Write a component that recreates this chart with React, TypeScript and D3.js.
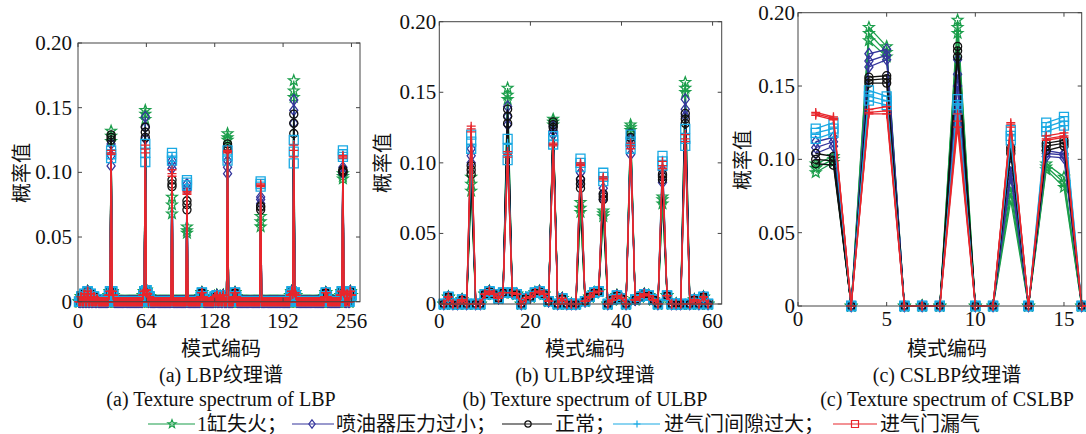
import React from "react";
import * as d3 from "d3";

// ---------------- DATA ----------------
const CLASS_NAMES = ["1缸失火", "喷油器压力过小", "正常", "进气门间隙过大", "进气门漏气"];
const CLASS_COLORS = ["#1b9e4b", "#34359c", "#111111", "#1aa9e3", "#e8262c"];
const PLOT_MARKERS = ["star", "diamond", "circle", "square", "plus"];
const LEGEND_MARKERS = ["star", "diamond", "circle", "plus", "square"];

// LBP (256 bins)
const LBP_TICKS = [0, 64, 128, 192, 256];
const LBP_PEAK_BINS = [31, 63, 88, 102, 140, 171, 202, 248];
const LBP_BUMPS: [number, number][] = [
  [3, 0.004], [6, 0.006], [9, 0.008], [12, 0.006], [15, 0.004], [18, 0.002],
  [29, 0.005], [30, 0.008], [32, 0.008], [33, 0.005],
  [61, 0.005], [62, 0.008], [64, 0.009], [65, 0.006], [67, 0.004],
  [115, 0.004], [116, 0.007], [117, 0.004],
  [128, 0.004], [130, 0.005], [133, 0.004], [136, 0.005],
  [146, 0.004], [147, 0.007], [148, 0.004],
  [199, 0.005], [200, 0.008], [201, 0.006], [203, 0.007], [204, 0.005],
  [231, 0.004], [232, 0.007], [233, 0.004],
  [246, 0.005], [247, 0.008], [249, 0.007], [252, 0.006], [255, 0.008], [256, 0.005],
];
const LBP_GREEN = [
  [0.132, 0.148, 0.081, 0.058, 0.130, 0.066, 0.171, 0.099],
  [0.128, 0.145, 0.075, 0.055, 0.127, 0.062, 0.163, 0.097],
  [0.124, 0.141, 0.068, 0.053, 0.125, 0.058, 0.158, 0.095],
];
const LBP_NAVY = [
  [0.122, 0.143, 0.109, 0.091, 0.109, 0.081, 0.156, 0.104],
  [0.113, 0.135, 0.106, 0.088, 0.104, 0.079, 0.148, 0.101],
  [0.105, 0.126, 0.103, 0.086, 0.099, 0.076, 0.138, 0.099],
];
const LBP_BLACK = [
  [0.129, 0.135, 0.094, 0.078, 0.122, 0.074, 0.145, 0.102],
  [0.127, 0.131, 0.091, 0.075, 0.120, 0.073, 0.138, 0.101],
  [0.125, 0.127, 0.089, 0.071, 0.118, 0.071, 0.130, 0.100],
];
const LBP_CYAN = [
  [0.117, 0.122, 0.115, 0.094, 0.117, 0.093, 0.125, 0.117],
  [0.114, 0.115, 0.112, 0.092, 0.113, 0.091, 0.116, 0.114],
  [0.111, 0.108, 0.109, 0.090, 0.109, 0.089, 0.107, 0.112],
];
const LBP_RED = [
  [0.117, 0.121, 0.102, 0.085, 0.117, 0.091, 0.121, 0.113],
  [0.115, 0.118, 0.099, 0.084, 0.116, 0.090, 0.117, 0.112],
  [0.114, 0.115, 0.097, 0.083, 0.115, 0.089, 0.112, 0.111],
];

// ULBP (59 bins)
const ULBP_TICKS = [0, 20, 40, 60];
const ULBP_PEAK_BINS = [7, 15, 25, 31, 36, 42, 49, 54];
const ULBP_BASE = [
  0, 0.005, 0, 0, 0.003, 0, 0, 0, 0, 0.007,
  0.009, 0.007, 0.004, 0.008, 0, 0.008, 0.007, 0, 0.004, 0.005,
  0.008, 0.009, 0.007, 0.002, 0, 0, 0.004, 0, 0, 0,
  0, 0.002, 0.005, 0.008, 0.009, 0, 0, 0.003, 0.006, 0.004,
  0, 0, 0.003, 0.005, 0.007, 0.006, 0.003, 0, 0, 0.006,
  0, 0, 0, 0, 0, 0.003, 0, 0.005, 0,
];
const ULBP_GREEN = [
  [0.090, 0.153, 0.131, 0.072, 0.066, 0.127, 0.076, 0.157],
  [0.085, 0.148, 0.129, 0.068, 0.064, 0.125, 0.074, 0.153],
  [0.080, 0.145, 0.127, 0.065, 0.062, 0.123, 0.071, 0.150],
];
const ULBP_NAVY = [
  [0.110, 0.140, 0.126, 0.093, 0.082, 0.117, 0.095, 0.145],
  [0.105, 0.133, 0.123, 0.089, 0.078, 0.112, 0.091, 0.138],
  [0.100, 0.127, 0.120, 0.085, 0.074, 0.106, 0.086, 0.133],
];
const ULBP_BLACK = [
  [0.098, 0.138, 0.129, 0.088, 0.078, 0.121, 0.092, 0.135],
  [0.095, 0.133, 0.127, 0.085, 0.076, 0.118, 0.090, 0.131],
  [0.092, 0.128, 0.125, 0.082, 0.074, 0.115, 0.088, 0.128],
];
const ULBP_CYAN = [
  [0.120, 0.117, 0.119, 0.103, 0.093, 0.120, 0.105, 0.124],
  [0.115, 0.110, 0.116, 0.100, 0.090, 0.115, 0.101, 0.117],
  [0.110, 0.102, 0.113, 0.097, 0.087, 0.110, 0.098, 0.112],
];
const ULBP_RED = [
  [0.126, 0.108, 0.114, 0.100, 0.090, 0.114, 0.101, 0.120],
  [0.124, 0.106, 0.113, 0.099, 0.089, 0.112, 0.098, 0.117],
  [0.122, 0.104, 0.112, 0.098, 0.088, 0.110, 0.096, 0.115],
];

// CSLBP (16 bins)
const CSLBP_TICKS = [0, 5, 10, 15];
const CSLBP_GREEN = [
  [0.097, 0.102, 0, 0.190, 0.177, 0, 0, 0, 0.195, 0, 0, 0.081, 0, 0.097, 0.088, 0],
  [0.094, 0.100, 0, 0.186, 0.173, 0, 0, 0, 0.190, 0, 0, 0.077, 0, 0.095, 0.084, 0],
  [0.091, 0.098, 0, 0.181, 0.170, 0, 0, 0, 0.186, 0, 0, 0.072, 0, 0.093, 0.081, 0],
];
const CSLBP_NAVY = [
  [0.112, 0.115, 0, 0.172, 0.175, 0, 0, 0, 0.168, 0, 0, 0.095, 0, 0.106, 0.104, 0],
  [0.108, 0.112, 0, 0.167, 0.171, 0, 0, 0, 0.158, 0, 0, 0.091, 0, 0.104, 0.103, 0],
  [0.104, 0.109, 0, 0.163, 0.168, 0, 0, 0, 0.150, 0, 0, 0.088, 0, 0.102, 0.101, 0],
];
const CSLBP_BLACK = [
  [0.104, 0.102, 0, 0.156, 0.157, 0, 0, 0, 0.177, 0, 0, 0.108, 0, 0.111, 0.113, 0],
  [0.100, 0.099, 0, 0.154, 0.155, 0, 0, 0, 0.174, 0, 0, 0.106, 0, 0.109, 0.111, 0],
  [0.097, 0.096, 0, 0.152, 0.152, 0, 0, 0, 0.170, 0, 0, 0.104, 0, 0.106, 0.109, 0],
];
const CSLBP_CYAN = [
  [0.121, 0.125, 0, 0.147, 0.143, 0, 0, 0, 0.141, 0, 0, 0.120, 0, 0.125, 0.129, 0],
  [0.118, 0.121, 0, 0.143, 0.140, 0, 0, 0, 0.137, 0, 0, 0.116, 0, 0.122, 0.126, 0],
  [0.114, 0.118, 0, 0.140, 0.137, 0, 0, 0, 0.134, 0, 0, 0.113, 0, 0.119, 0.123, 0],
];
const CSLBP_RED = [
  [0.132, 0.129, 0, 0.134, 0.136, 0, 0, 0, 0.131, 0, 0, 0.125, 0, 0.116, 0.118, 0],
  [0.131, 0.128, 0, 0.132, 0.133, 0, 0, 0, 0.126, 0, 0, 0.124, 0, 0.114, 0.116, 0],
  [0.130, 0.127, 0, 0.131, 0.131, 0, 0, 0, 0.122, 0, 0, 0.122, 0, 0.113, 0.115, 0],
];

const Y_TICKS = [0, 0.05, 0.1, 0.15, 0.2];
const Y_TICK_LABELS = ["0", "0.05", "0.10", "0.15", "0.20"];

// ---------------- BUILD SERIES ----------------
function buildLBP(peaks: number[][]): number[][] {
  return peaks.map((pk) => {
    const arr = new Array(256).fill(0);
    LBP_BUMPS.forEach(([b, v]) => (arr[b - 1] = v));
    LBP_PEAK_BINS.forEach((b, i) => (arr[b - 1] = pk[i]));
    return arr;
  });
}
function buildULBP(peaks: number[][]): number[][] {
  return peaks.map((pk) => {
    const arr = ULBP_BASE.slice();
    ULBP_PEAK_BINS.forEach((b, i) => (arr[b - 1] = pk[i]));
    return arr;
  });
}

const LBP_SERIES = [LBP_GREEN, LBP_NAVY, LBP_BLACK, LBP_CYAN, LBP_RED].map(buildLBP);
const ULBP_SERIES = [ULBP_GREEN, ULBP_NAVY, ULBP_BLACK, ULBP_CYAN, ULBP_RED].map(buildULBP);
const CSLBP_SERIES = [CSLBP_GREEN, CSLBP_NAVY, CSLBP_BLACK, CSLBP_CYAN, CSLBP_RED];

// ---------------- MARKERS ----------------
function starPath(R: number) {
  const r = R * 0.42;
  const pts: string[] = [];
  for (let i = 0; i < 10; i++) {
    const a = -Math.PI / 2 + (i * Math.PI) / 5;
    const rr = i % 2 === 0 ? R : r;
    pts.push(`${(rr * Math.cos(a)).toFixed(2)},${(rr * Math.sin(a)).toFixed(2)}`);
  }
  return "M" + pts.join("L") + "Z";
}
function markerPath(type: string, s: number) {
  switch (type) {
    case "star":
      return starPath(s * 0.62);
    case "diamond":
      return `M0,${-s * 0.6}L${s * 0.45},0L0,${s * 0.6}L${-s * 0.45},0Z`;
    case "circle":
      return `M${s * 0.45},0A${s * 0.45},${s * 0.45} 0 1,1 ${-s * 0.45},0A${s * 0.45},${s * 0.45} 0 1,1 ${s * 0.45},0Z`;
    case "square":
      return `M${-s / 2},${-s / 2}h${s}v${s}h${-s}Z`;
    case "plus":
      return `M${-s / 2},0h${s}M0,${-s / 2}v${s}`;
  }
  return "";
}

const SERIF = "'Liberation Serif', 'Times New Roman', 'Noto Sans CJK SC', serif";

interface PanelProps {
  series: number[][][];
  xDomain: [number, number];
  xRange: [number, number];
  yRange: [number, number];
  xTicks: number[];
  yLabelGap: number;
  xLabelY: number;
  ylabelPos: [number, number];
  markerSize: number;
}

function Panel(p: PanelProps) {
  const x = d3.scaleLinear().domain(p.xDomain).range(p.xRange);
  const y = d3.scaleLinear().domain([0, 0.2]).range(p.yRange);
  const line = d3
    .line<number>()
    .x((_, i) => x(i + 1))
    .y((d) => y(d));
  const [x0, x1] = p.xRange;
  const [yb, yt] = p.yRange;
  return (
    <g>
      {p.series.map((cls, ci) =>
        cls.map((vals, si) => (
          <g key={`${ci}-${si}`}>
            <path d={line(vals) || ""} fill="none" stroke={CLASS_COLORS[ci]} strokeWidth={1.3} />
            {vals.map((v, i) => (
              <path
                key={i}
                transform={`translate(${x(i + 1).toFixed(2)},${y(v).toFixed(2)})`}
                d={markerPath(PLOT_MARKERS[ci], p.markerSize)}
                fill="none"
                stroke={CLASS_COLORS[ci]}
                strokeWidth={1.3}
              />
            ))}
          </g>
        ))
      )}
      <rect x={x0} y={yt} width={x1 - x0} height={yb - yt} fill="none" stroke="#444" strokeWidth={1} />
      {p.xTicks.map((t) => (
        <g key={"xt" + t}>
          <line x1={x(t)} x2={x(t)} y1={yb} y2={yb - 4} stroke="#444" />
          <line x1={x(t)} x2={x(t)} y1={yt} y2={yt + 4} stroke="#444" />
          <text x={x(t)} y={p.xLabelY} textAnchor="middle" fontFamily={SERIF} fontSize={21} fill="#111">
            {t}
          </text>
        </g>
      ))}
      {Y_TICKS.map((t, i) => (
        <g key={"yt" + t}>
          <line x1={x0} x2={x0 + 4} y1={y(t)} y2={y(t)} stroke="#444" />
          <line x1={x1} x2={x1 - 4} y1={y(t)} y2={y(t)} stroke="#444" />
          <text
            x={x0 - p.yLabelGap}
            y={y(t)}
            textAnchor="end"
            dominantBaseline="central"
            fontFamily={SERIF}
            fontSize={21}
            fill="#111"
          >
            {Y_TICK_LABELS[i]}
          </text>
        </g>
      ))}
      <text
        transform={`translate(${p.ylabelPos[0]},${p.ylabelPos[1]}) rotate(-90)`}
        textAnchor="middle"
        dominantBaseline="central"
        fontFamily={SERIF}
        fontSize={20}
        fill="#111"
      >
        概率值
      </text>
    </g>
  );
}

const TITLES_CN = ["(a) LBP纹理谱", "(b) ULBP纹理谱", "(c) CSLBP纹理谱"];
const TITLES_EN = ["(a) Texture spectrum of LBP", "(b) Texture spectrum of ULBP", "(c) Texture spectrum of CSLBP"];
const TITLE_X = [221, 585, 947];

// legend layout: [lineStart, lineEnd, markerX, textX]
const LEGEND_LABELS = ["1缸失火；", "喷油器压力过小；", "正常；", "进气门间隙过大；", "进气门漏气"];
const LEGEND_POS = [
  [148, 195, 172, 197],
  [292, 334, 312, 336],
  [502, 552, 528, 555],
  [613, 660, 637, 664],
  [833, 877, 855, 880],
];

export default function App() {
  return (
    <svg
      width={1086}
      height={434}
      style={{ position: "absolute", left: 0, top: 0, background: "#fff" }}
      xmlns="http://www.w3.org/2000/svg"
    >
      <rect width={1086} height={434} fill="#fff" />
      <Panel
        series={LBP_SERIES}
        xDomain={[0, 264]}
        xRange={[78, 360]}
        yRange={[301.7, 43]}
        xTicks={LBP_TICKS}
        yLabelGap={6}
        xLabelY={328}
        ylabelPos={[22, 173]}
        markerSize={9}
      />
      <Panel
        series={ULBP_SERIES}
        xDomain={[0, 62]}
        xRange={[439.3, 721.7]}
        yRange={[304, 21.7]}
        xTicks={ULBP_TICKS}
        yLabelGap={3}
        xLabelY={328}
        ylabelPos={[383, 163]}
        markerSize={9}
      />
      <Panel
        series={CSLBP_SERIES}
        xDomain={[0, 16]}
        xRange={[798, 1081.7]}
        yRange={[306, 12.7]}
        xTicks={CSLBP_TICKS}
        yLabelGap={3}
        xLabelY={326}
        ylabelPos={[743, 160]}
        markerSize={9}
      />
      {TITLE_X.map((tx, i) => (
        <g key={"t" + i} fontFamily={SERIF} fontSize={20} fill="#111" textAnchor="middle">
          <text x={tx} y={349} dominantBaseline="central">模式编码</text>
          <text x={tx} y={375} dominantBaseline="central">{TITLES_CN[i]}</text>
          <text x={tx} y={399} dominantBaseline="central">{TITLES_EN[i]}</text>
        </g>
      ))}
      {LEGEND_LABELS.map((lab, i) => {
        const [a, b, m, t] = LEGEND_POS[i];
        return (
          <g key={"lg" + i}>
            <line x1={a} x2={b} y1={424} y2={424} stroke={CLASS_COLORS[i]} strokeWidth={1.2} />
            <path
              transform={`translate(${m},424)`}
              d={markerPath(LEGEND_MARKERS[i], 7)}
              fill="none"
              stroke={CLASS_COLORS[i]}
              strokeWidth={1.2}
            />
            <text x={t} y={424} dominantBaseline="central" fontFamily={SERIF} fontSize={20} fill="#111">
              {lab}
            </text>
          </g>
        );
      })}
    </svg>
  );
}
